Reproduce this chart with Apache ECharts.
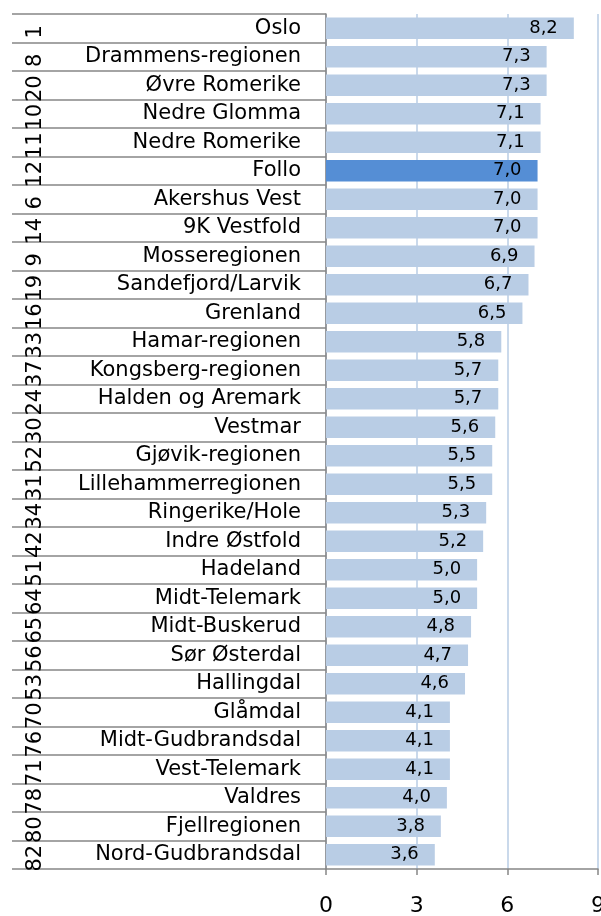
<!DOCTYPE html>
<html lang="no">
<head>
    <meta charset="UTF-8">
    <title>Regioner</title>
    <script src="https://cdn.jsdelivr.net/npm/echarts@6/dist/echarts.min.js"></script>
    <style>
        html, body { margin: 0; padding: 0; background: #fff; }
        #chart { width: 601px; height: 916px; }
    </style>
</head>
<body>
<div id="chart"></div>
<script>
// regioner, sortert som i figuren (øverst først)
var regions = ['Oslo', 'Drammens-regionen', 'Øvre Romerike', 'Nedre Glomma', 'Nedre Romerike',
    'Follo', 'Akershus Vest', '9K Vestfold', 'Mosseregionen', 'Sandefjord/Larvik', 'Grenland',
    'Hamar-regionen', 'Kongsberg-regionen', 'Halden og Aremark', 'Vestmar', 'Gjøvik-regionen',
    'Lillehammerregionen', 'Ringerike/Hole', 'Indre Østfold', 'Hadeland', 'Midt-Telemark',
    'Midt-Buskerud', 'Sør Østerdal', 'Hallingdal', 'Glåmdal', 'Midt-Gudbrandsdal',
    'Vest-Telemark', 'Valdres', 'Fjellregionen', 'Nord-Gudbrandsdal'];
var ranks = ['1', '8', '20', '10', '11', '12', '6', '14', '9', '19', '16', '33', '37', '24', '30',
    '52', '31', '34', '42', '51', '64', '65', '56', '53', '70', '76', '71', '78', '80', '82'];
var values = [8.2, 7.3, 7.3, 7.1, 7.1, 7.0, 7.0, 7.0, 6.9, 6.7, 6.5, 5.8, 5.7, 5.7, 5.6,
    5.5, 5.5, 5.3, 5.2, 5.0, 5.0, 4.8, 4.7, 4.6, 4.1, 4.1, 4.1, 4.0, 3.8, 3.6];
var xTicks = [0, 3, 6, 9];
var highlight = 'Follo';

var FONT = 'DejaVu Sans';
var chart = echarts.init(document.getElementById('chart'));

var barData = values.map(function (v, i) {
    var item = { value: v };
    if (regions[i] === highlight) item.itemStyle = { color: '#558ed5' };
    return item;
});

chart.setOption({
    animation: false,
    grid: { left: 326, right: 3, top: 14, bottom: 47, outerBoundsMode: 'none' },
    xAxis: {
        type: 'value',
        min: xTicks[0],
        max: xTicks[xTicks.length - 1],
        interval: xTicks[1] - xTicks[0],
        axisLine: { show: true, lineStyle: { color: '#868686', width: 1.5 } },
        axisTick: { show: true, length: 6, lineStyle: { color: '#868686', width: 1.5 } },
        splitLine: { show: true, lineStyle: { color: '#b9cde5', width: 1.5 } },
        axisLabel: { margin: 26, fontFamily: FONT, fontSize: 22, color: '#000' }
    },
    yAxis: [{
        type: 'category',
        inverse: true,
        data: regions,
        axisLine: { show: true, lineStyle: { color: '#868686', width: 1.5 } },
        // tabellstrekene til venstre er aksens tick-streker
        axisTick: { show: true, length: 314, lineStyle: { color: '#868686', width: 1.5 } },
        axisLabel: {
            interval: 0, margin: 25, fontFamily: FONT, fontSize: 21, color: '#000',
            padding: [9, 0, 0, 0]
        }
    }, {
        type: 'category',
        inverse: true,
        position: 'left',
        data: ranks,
        axisLine: { show: false },
        axisTick: { show: false },
        axisLabel: {
            interval: 0, rotate: 90, margin: 280, fontFamily: FONT, fontSize: 21, color: '#000',
            padding: [0, 7, 0, 0]
        }
    }],
    series: [{
        type: 'bar',
        yAxisIndex: 0,
        data: barData,
        barCategoryGap: '25%',
        itemStyle: { color: '#b9cde5' },
        label: {
            show: true,
            position: 'insideRight',
            distance: 16,
            fontFamily: FONT,
            fontSize: 18,
            color: '#000',
            padding: [5, 0, 0, 0],
            formatter: function (p) { return p.value.toFixed(1).replace('.', ','); }
        }
    }]
});
</script>
</body>
</html>
